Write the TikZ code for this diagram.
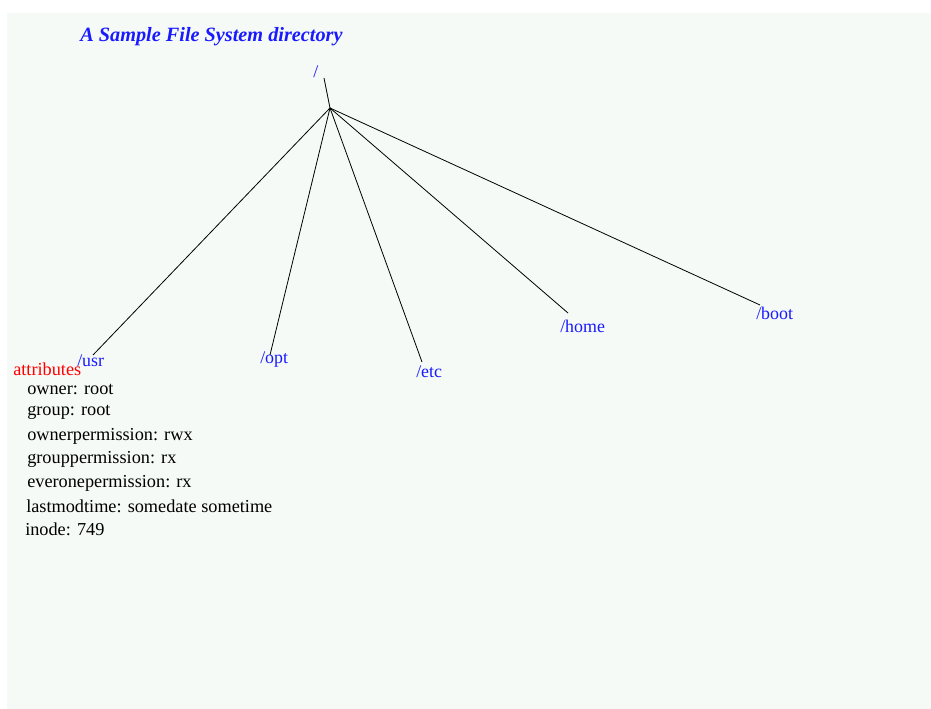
\documentclass[tikz,border=0pt]{standalone}
\usepackage{fontspec}
\setmainfont{Liberation Serif}
\definecolor{panel}{HTML}{F5FAF7}
\definecolor{dirblue}{HTML}{1A1AFF}
\tikzset{
	dir/.style = {text = dirblue, anchor = west, inner sep = 0pt, font = \fontsize{13.4}{15}\selectfont},
	attr/.style = {anchor = west, inner sep = 0pt, font = \fontsize{13.7}{15}\selectfont},
	branch/.style = {draw = black, line width = 0.6pt}
}
\begin{document}
\begin{tikzpicture}[x = 0.75pt, y = -0.75pt]
		\useasboundingbox (0, 0) rectangle (931, 709);
		% Hintergrund
		\fill [panel] (7, 13) rectangle (931, 709);
		% Titel
		\node [text = dirblue, anchor = west, inner sep = 0pt, font = \fontsize{15.2}{17}\selectfont\bfseries\itshape] (title) at (80, 37) {A Sample File System directory};
		% Wurzel
		\node [dir] (root) at (313, 72) {/};
		\coordinate (stem) at (324, 78);
		\coordinate (hub) at (330, 108);
		% Verzeichnisse
		\node [dir] (usr) at (77, 361) {/usr};
		\node [dir] (opt) at (260, 360) {/opt};
		\node [dir] (etc) at (416, 372) {/etc};
		\node [dir] (home) at (560, 326) {/home};
		\node [dir] (boot) at (756, 313) {/boot};
		% Enden der Linien
		\coordinate (usrend) at (93, 355);
		\coordinate (optend) at (270, 355);
		\coordinate (etcend) at (422, 362);
		\coordinate (homeend) at (568, 313);
		\coordinate (bootend) at (760, 305);
		% Linien
		\draw [branch] (stem) -- (hub);
		\draw [branch] (hub) -- (usrend);
		\draw [branch] (hub) -- (optend);
		\draw [branch] (hub) -- (etcend);
		\draw [branch] (hub) -- (homeend);
		\draw [branch] (hub) -- (bootend);
		% Attribute
		\node [text = red, anchor = west, inner sep = 0pt, font = \fontsize{13.7}{15}\selectfont] (attrs) at (13, 369) {attributes};
		\node [attr] (owner) at (27, 389) {owner: root};
		\node [attr] (group) at (27, 412) {group: root};
		\node [attr] (operm) at (27, 436) {ownerpermission: rwx};
		\node [attr] (gperm) at (27, 459) {grouppermission: rx};
		\node [attr] (eperm) at (27, 483) {everonepermission: rx};
		\node [attr] (mtime) at (26, 506) {lastmodtime: somedate sometime};
		\node [attr] (inode) at (25, 529) {inode: 749};
	\end{tikzpicture}
\end{document}
